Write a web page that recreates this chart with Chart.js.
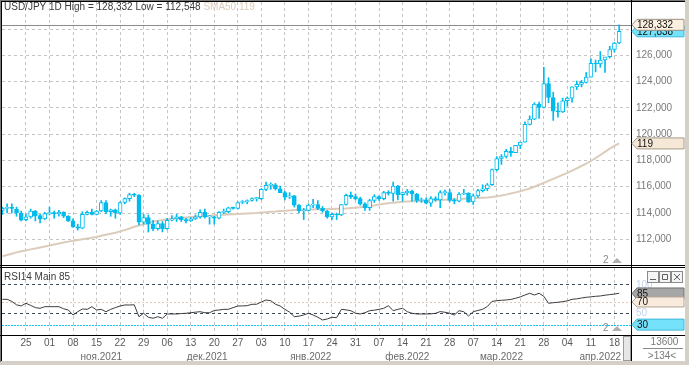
<!DOCTYPE html>
<html>
<head>
<meta charset="utf-8">
<title>USD/JPY 1D</title>
<script src="https://cdn.jsdelivr.net/npm/chart.js@4.4.1/dist/chart.umd.min.js"></script>
<style>
  html, body { margin: 0; padding: 0; background: #d4d0c8; }
  #screen { position: relative; width: 689px; height: 365px; overflow: hidden; }
  #paper { position: absolute; left: 0; top: 0; width: 685px; height: 361px; background: #fff; }
  #priceBox { position: absolute; left: 0; top: 0; width: 689px; height: 266px; }
  #rsiBox { position: absolute; left: 0; top: 266px; width: 689px; height: 96px; }
</style>
</head>
<body>
<div id="screen">
  <div id="paper"></div>
  <div id="priceBox"><canvas id="priceChart"></canvas></div>
  <div id="rsiBox"><canvas id="rsiChart"></canvas></div>
</div>
<script>
// daily bars, 18 Oct 2021 .. 19 Apr 2022
const opens = [
  114.20,114.35,114.38,114.30,114.00, 113.50,113.70,114.15,113.80,113.55,
  113.95,114.00,113.95,114.05,113.75, 113.40,112.95,112.85,113.90,114.05,
  113.90,114.15,114.80,114.10,114.25, 114.00,114.80,115.10,115.40,115.35,
  113.30,113.65,113.15,112.80,113.20, 112.80,113.45,113.55,113.70,113.50,
  113.40,113.55,113.70,114.05,113.70, 113.70,113.60,114.05,114.10,114.40,
  114.35,114.80,114.85,114.95,115.10, 115.10,115.80,116.10,116.15,115.85,
  115.55,115.20,115.30,114.60,114.15, 114.20,114.60,114.65,114.35,114.15,
  113.70,113.90,113.85,114.65,115.35, 115.25,115.10,114.70,114.40,114.95,
  115.25,115.10,115.55,115.50,116.05, 115.40,115.55,115.65,115.45,114.95,
  115.00,114.75,115.10,115.00,115.55, 115.55,114.95,114.90,115.45,115.50,
  114.85,115.30,115.70,115.85,116.15, 117.30,118.15,118.30,118.70,118.60,
  119.15,119.40,120.75,121.15,122.30, 122.05,123.85,122.80,121.75,121.70,
  122.55,122.75,123.60,123.80,123.95, 124.35,125.40,125.35,125.65,125.90,
  126.45,126.95
];
const highs = [
  114.45,114.70,114.70,114.45,114.15, 113.90,114.30,114.20,113.90,114.05,
  114.45,114.15,114.20,114.10,113.80, 113.55,113.15,114.10,114.15,114.30,
  114.20,114.95,114.95,114.30,114.30, 114.85,115.15,115.50,115.50,115.40,
  113.90,113.85,113.45,113.40,113.35, 113.60,113.80,113.90,113.75,113.60,
  113.65,113.85,114.25,114.30,113.80, 113.75,114.10,114.30,114.45,114.45,
  114.85,114.95,115.00,115.15,115.20, 115.85,116.35,116.30,116.25,116.05,
  115.65,115.55,115.35,114.65,114.35, 114.70,115.05,114.95,114.50,114.20,
  114.00,114.00,114.65,115.45,115.60, 115.45,115.20,114.80,115.05,115.40,
  115.30,115.65,115.70,116.35,116.10, 115.60,115.80,115.75,115.50,115.15,
  115.15,115.25,115.25,115.70,115.75, 115.80,115.10,115.55,115.80,115.55,
  115.45,115.80,116.15,116.25,117.35, 118.30,118.45,118.85,119.00,119.15,
  119.40,120.95,121.40,122.40,122.45, 125.10,124.30,123.20,122.40,122.75,
  122.85,123.60,124.05,124.10,124.70, 125.75,125.65,126.30,125.80,126.70,
  127.00,128.332
];
const lows = [
  113.90,114.00,114.00,113.75,113.40, 113.40,113.60,113.40,113.25,113.50,
  113.85,113.60,113.75,113.65,113.35, 112.90,112.70,112.80,113.85,113.85,
  113.85,114.10,113.95,113.75,113.60, 113.90,114.70,114.90,115.25,113.10,
  113.15,112.548,112.65,112.70,112.56, 112.75,113.40,113.35,113.35,113.25,
  113.35,113.50,113.60,113.60,113.15, 113.15,113.55,113.95,114.00,114.30,
  114.30,114.70,114.70,114.90,114.90, 115.00,115.70,115.80,115.75,115.55,
  115.00,115.10,114.45,114.00,113.50, 114.15,114.40,114.25,114.05,113.60,
  113.50,113.50,113.80,114.60,115.10, 115.00,114.60,114.20,114.20,114.80,
  114.95,115.00,115.35,114.90,115.00, 114.90,115.35,114.90,114.80,114.80,
  114.70,114.50,114.90,114.40,115.35, 114.85,114.70,114.85,115.40,114.80,
  114.65,115.20,115.60,115.70,116.10, 117.20,117.70,118.20,118.30,118.60,
  118.90,119.40,120.70,121.10,121.20, 122.00,122.40,121.05,121.30,121.65,
  122.15,122.45,123.40,123.60,123.90, 124.35,124.75,125.10,124.70,125.80,
  126.25,126.90
];
const closes = [
  114.35,114.38,114.35,114.00,113.45, 113.70,114.15,113.80,113.55,113.95,
  114.00,113.95,114.05,113.75,113.40, 112.95,112.85,113.90,114.05,113.90,
  114.15,114.80,114.10,114.25,114.00, 114.80,115.10,115.40,115.35,113.30,
  113.65,113.15,112.80,113.20,112.80, 113.45,113.55,113.70,113.50,113.40,
  113.55,113.70,114.05,113.70,113.70, 113.60,114.05,114.10,114.40,114.35,
  114.80,114.85,114.95,115.10,115.10, 115.80,116.10,116.15,115.85,115.55,
  115.20,115.30,114.60,114.15,114.20, 114.60,114.65,114.35,114.15,113.70,
  113.90,113.85,114.65,115.35,115.25, 115.10,114.70,114.40,114.95,115.25,
  115.10,115.55,115.50,116.05,115.40, 115.55,115.65,115.45,114.95,115.00,
  114.75,115.10,115.00,115.55,115.55, 114.95,114.90,115.45,115.50,114.85,
  115.30,115.70,115.85,116.15,117.30, 118.15,118.30,118.70,118.60,119.15,
  119.40,120.75,121.15,122.30,122.05, 123.85,122.80,121.75,121.70,122.55,
  122.75,123.60,123.80,123.95,124.35, 125.40,125.35,125.65,125.90,126.45,
  126.95,127.838
];
const sma50 = [
  110.70,110.80,110.90,111.00,111.08, 111.15,111.23,111.30,111.38,111.45,
  111.52,111.60,111.68,111.75,111.82, 111.88,111.94,112.00,112.06,112.12,
  112.18,112.26,112.34,112.42,112.50, 112.60,112.70,112.82,112.95,113.05,
  113.15,113.25,113.33,113.40,113.46, 113.52,113.56,113.60,113.63,113.66,
  113.69,113.72,113.76,113.78,113.80, 113.82,113.84,113.86,113.88,113.90,
  113.92,113.94,113.96,113.98,114.00, 114.03,114.06,114.09,114.12,114.16,
  114.18,114.20,114.22,114.24,114.25, 114.26,114.27,114.28,114.29,114.30,
  114.31,114.32,114.33,114.35,114.38, 114.40,114.43,114.47,114.52,114.58,
  114.64,114.70,114.75,114.79,114.82, 114.85,114.87,114.89,114.91,114.92,
  114.93,114.95,114.97,114.99,115.01, 115.03,115.05,115.07,115.09,115.11,
  115.13,115.15,115.17,115.19,115.22, 115.27,115.33,115.40,115.48,115.57,
  115.66,115.76,115.87,116.00,116.15, 116.30,116.45,116.60,116.75,116.90,
  117.05,117.22,117.40,117.58,117.76, 117.96,118.18,118.42,118.66,118.90,
  119.12,119.30
];
const rsi14 = [
  74.7,74.7,71.0,65.0,63.0, 67.7,64.0,60.0,58.8,61.7,
  61.7,61.7,61.7,58.0,55.8, 47.0,52.8,57.6,57.0,61.7,
  55.8,57.0,52.8,57.0,60.0, 62.9,64.7,64.7,65.0,44.0,
  50.0,43.0,41.2,44.0,41.2, 48.8,48.8,48.8,49.5,50.0,
  51.0,52.0,52.8,51.0,51.0, 55.0,55.8,57.0,57.0,60.0,
  62.9,63.0,63.5,65.9,66.0, 70.0,73.5,72.3,66.0,62.9,
  57.0,52.0,44.0,45.0,47.0, 50.0,47.0,43.0,38.2,40.0,
  43.0,42.2,57.0,56.0,54.6, 50.0,48.8,51.0,54.6,55.5,
  57.0,58.8,63.4,54.6,57.0, 58.8,52.8,50.0,48.8,48.8,
  48.8,49.0,50.0,53.0,51.8, 50.0,47.0,54.6,52.8,45.2,
  52.8,55.0,57.0,62.0,71.0, 72.3,73.0,73.5,74.5,76.5,
  79.0,82.3,85.3,82.3,85.3, 80.0,67.7,68.7,69.5,70.5,
  72.0,74.7,75.5,77.0,78.3, 79.0,80.0,80.6,82.0,83.0,
  84.0,85.3
];

const dayLabels = ['25','01','08','15','22','29','06','13','20','27','03','10','17',
                   '24','31','07','14','21','28','07','14','21','28','04','11','18'];
const dayLabelBars = [5,10,15,20,25,30,35,40,45,50,55,60,65,70,75,80,85,90,95,100,105,110,115,120,125,130];
const monthLabels = ['ноя.2021','дек.2021','янв.2022','фев.2022','мар.2022','апр.2022'];
const monthLabelBars = [21, 43.5, 65.5, 86, 106, 127];
const priceTicks = [112,114,116,118,120,122,124,126,128];
const rsiGrid = [50, 100];
const rsiLevels = [70, 30];

const symbolName = 'USD/JPY';
const periodName = '1D';
const rangeHigh = 128.332;
const rangeLow = 112.548;
const lastBid = 127.838;
const smaLast = 119;
const rsiLast = 85;

const BAR_MIN = -0.085, BAR_MAX = 133.73;
const PRICE_MIN = 110.04, PRICE_MAX = 130.07;
const RSI_MIN = 11.66, RSI_MAX = 130.0;

const CANDLE = 'rgb(0,186,238)';
const SMA_COLOR = 'rgb(220,204,188)';
const GRID = '#c4c4c4';
const FONT = "'Liberation Sans', Arial, sans-serif";

Chart.defaults.font.family = FONT;
Chart.defaults.font.size = 10;
Chart.defaults.color = '#6a6a6a';

function fmt(v, d) { return v.toFixed(d).replace('.', ','); }

function dayTicks(scale) { scale.ticks = dayLabelBars.map(v => ({value: v})); }

// keep Chart.js from reserving room for half-labels at the edges
function noEdgePad(s) {
  s.paddingTop = 0;
  s.paddingBottom = 0;
  s.paddingLeft = 0;
  s.paddingRight = 0;
}

function priceTag(ctx, x, yc, w, h, fill, stroke, text, textColor) {
  ctx.save();
  ctx.beginPath();
  ctx.moveTo(x, yc);
  ctx.lineTo(x + 5, yc - h / 2);
  ctx.lineTo(x + w, yc - h / 2);
  ctx.lineTo(x + w, yc + h / 2);
  ctx.lineTo(x + 5, yc + h / 2);
  ctx.closePath();
  ctx.fillStyle = fill;
  ctx.fill();
  ctx.strokeStyle = stroke;
  ctx.lineWidth = 1;
  ctx.stroke();
  ctx.fillStyle = textColor;
  ctx.font = '10px ' + FONT;
  ctx.textAlign = 'left';
  ctx.textBaseline = 'middle';
  ctx.fillText(text, x + 5, yc + 0.5);
  ctx.restore();
}

function pageMarker(ctx, x, y) {
  ctx.save();
  ctx.fillStyle = '#8a8a8a';
  ctx.font = '10px ' + FONT;
  ctx.textBaseline = 'alphabetic';
  ctx.fillText('2', x, y);
  ctx.fillStyle = '#b0b0b0';
  ctx.beginPath();
  ctx.moveTo(x + 9, y);
  ctx.lineTo(x + 19, y);
  ctx.lineTo(x + 14, y - 5);
  ctx.closePath();
  ctx.fill();
  ctx.restore();
}

const priceOverlay = {
  id: 'priceOverlay',
  beforeDatasetsDraw(chart) {
    const {ctx, chartArea: a, scales: {y}} = chart;
    const hy = Math.round(y.getPixelForValue(rangeHigh)) + 0.5;
    ctx.save();
    ctx.strokeStyle = '#8c8c8c';
    ctx.lineWidth = 1;
    ctx.beginPath();
    ctx.moveTo(a.left, hy);
    ctx.lineTo(a.right, hy);
    ctx.stroke();
    ctx.restore();
  },
  afterDraw(chart) {
    const {ctx, chartArea: a, scales: {y}} = chart;
    ctx.save();
    // frame
    ctx.fillStyle = '#7a7a7a';
    ctx.fillRect(0, 0, 685, 1);
    ctx.fillRect(0, 0, 1, 266);
    ctx.fillStyle = '#000';
    ctx.fillRect(1, 1, 684, 1);
    ctx.fillRect(1, 1, 1, 265);
    ctx.fillRect(a.right - 1, 0, 1, 266);
    ctx.fillRect(0, a.bottom, 685, 1);
    // title
    ctx.font = '10px ' + FONT;
    ctx.textBaseline = 'alphabetic';
    ctx.textAlign = 'left';
    const head = symbolName + ' ' + periodName + ' High = ' + fmt(rangeHigh, 3) + ' Low = ' + fmt(rangeLow, 3) + ' ';
    ctx.fillStyle = '#3a3a3a';
    ctx.fillText(head, 4, 10);
    ctx.fillStyle = SMA_COLOR;
    ctx.fillText('SMA50 ' + smaLast, 4 + ctx.measureText(head).width, 10);
    ctx.restore();
    pageMarker(ctx, 603, a.bottom - 2);
    priceTag(ctx, a.right, y.getPixelForValue(lastBid), 52, 11, '#74e2fb', '#3fb8d8', fmt(lastBid, 3), '#111');
    priceTag(ctx, a.right, y.getPixelForValue(rangeHigh), 52, 11, '#fbf0df', '#9a8f80', fmt(rangeHigh, 3), '#111');
    priceTag(ctx, a.right, y.getPixelForValue(sma50[sma50.length - 1]), 52, 11, '#f6e8d6', '#a89a88', String(smaLast), '#111');
  }
};

new Chart(document.getElementById('priceChart'), {
  type: 'bar',
  data: {
    datasets: [
      {
        type: 'line',
        data: sma50.map((v, i) => ({x: i, y: v})),
        borderColor: SMA_COLOR,
        borderWidth: 2,
        pointRadius: 0,
        order: 3
      },
      {
        data: lows.map((v, i) => ({x: i, y: [v, highs[i]]})),
        backgroundColor: CANDLE,
        barThickness: 1,
        grouped: false,
        order: 2
      },
      {
        data: opens.map((v, i) => ({x: i, y: [v, closes[i]]})),
        backgroundColor: opens.map((v, i) => closes[i] >= v ? '#ffffff' : CANDLE),
        borderColor: CANDLE,
        borderWidth: 1,
        borderSkipped: false,
        barThickness: 4,
        minBarLength: 1,
        grouped: false,
        order: 1
      }
    ]
  },
  options: {
    responsive: true,
    maintainAspectRatio: false,
    animation: false,
    events: [],
    layout: {padding: {left: 2, top: 2, right: 0, bottom: 1}},
    plugins: {legend: {display: false}, tooltip: {enabled: false}},
    scales: {
      x: {
        type: 'linear', min: BAR_MIN, max: BAR_MAX, offset: false,
        grid: {color: GRID, drawTicks: false, offset: false},
        border: {display: false, dash: [3, 3]},
        ticks: {display: false},
        afterBuildTicks: dayTicks,
        afterFit: s => { s.height = 0; noEdgePad(s); }
      },
      y: {
        position: 'right', min: PRICE_MIN, max: PRICE_MAX,
        grid: {color: GRID, drawTicks: false},
        border: {display: false, dash: [3, 3]},
        ticks: {padding: 4, color: '#7a7a7a', callback: v => fmt(v, 3)},
        afterBuildTicks: s => { s.ticks = priceTicks.map(v => ({value: v})); },
        afterFit: s => { s.width = 57; noEdgePad(s); }
      }
    }
  },
  plugins: [priceOverlay]
});

const rsiOverlay = {
  id: 'rsiOverlay',
  beforeDatasetsDraw(chart) {
    const {ctx, chartArea: a, scales: {y}} = chart;
    const colors = ['#e2c9b6', '#19c4ee'];
    ctx.save();
    ctx.lineWidth = 1;
    rsiLevels.forEach((lv, k) => {
      const py = Math.round(y.getPixelForValue(lv)) + 0.5;
      ctx.strokeStyle = colors[k];
      ctx.setLineDash(k === 0 ? [2, 2] : [2, 1]);
      ctx.beginPath();
      ctx.moveTo(a.left, py);
      ctx.lineTo(a.right, py);
      ctx.stroke();
    });
    ctx.restore();
  },
  afterDraw(chart) {
    const {ctx, chartArea: a, scales: {y}} = chart;
    ctx.save();
    ctx.fillStyle = '#7a7a7a';
    ctx.fillRect(0, 0, 1, 96);
    ctx.fillStyle = '#000';
    ctx.fillRect(1, 0, 1, 95);
    ctx.fillRect(0, a.top - 1, 685, 1);
    ctx.fillRect(0, a.bottom, 685, 1);
    ctx.fillRect(a.right - 1, 0, 1, 95);
    // caption
    ctx.font = '10px ' + FONT;
    ctx.textBaseline = 'alphabetic';
    ctx.fillStyle = '#3a3a3a';
    ctx.fillText('RSI14 Main ' + rsiLast, 4, 13.5);
    // window buttons
    const bx = [647, 659, 671];
    bx.forEach((x, k) => {
      ctx.fillStyle = '#f4f4f4';
      ctx.fillRect(x + 0.5, 5.5, 11, 11);
      ctx.strokeStyle = '#8a8a8a';
      ctx.lineWidth = 1;
      ctx.strokeRect(x + 0.5, 5.5, 11, 11);
      ctx.strokeStyle = '#606060';
      ctx.beginPath();
      if (k === 0) { ctx.moveTo(x + 3, 13.5); ctx.lineTo(x + 9, 13.5); }
      if (k === 1) { ctx.rect(x + 3.5, 8.5, 5, 5); }
      if (k === 2) { ctx.moveTo(x + 3, 8); ctx.lineTo(x + 9, 14); ctx.moveTo(x + 9, 8); ctx.lineTo(x + 3, 14); }
      ctx.stroke();
    });
    // scroll thumb and bar counter
    ctx.fillStyle = '#e6e6e6';
    ctx.fillRect(623.5, a.bottom + 1.5, 7, 24);
    ctx.strokeStyle = '#9a9a9a';
    ctx.strokeRect(623.5, a.bottom + 1.5, 7, 24);
    ctx.fillStyle = '#7a7a7a';
    ctx.textAlign = 'center';
    ctx.textBaseline = 'middle';
    ctx.fillText('13600', 664.5, a.bottom + 7);
    ctx.fillText('>134<', 662, a.bottom + 21);
    ctx.fillStyle = '#8a8a8a';
    ctx.fillRect(643, a.bottom + 13, 40, 1);
    ctx.restore();
    pageMarker(ctx, 603, a.bottom - 4);
    priceTag(ctx, a.right, y.getPixelForValue(30), 52, 11, '#74e2fb', '#3fb8d8', '30', '#111');
    priceTag(ctx, a.right, y.getPixelForValue(rsiLast), 52, 11, '#a6a6a6', '#6e6e6e', String(rsiLast), '#111');
    priceTag(ctx, a.right, y.getPixelForValue(70), 52, 10, '#f8ebdd', '#b3a595', '70', '#111');
  }
};

new Chart(document.getElementById('rsiChart'), {
  type: 'line',
  data: {
    datasets: [{
      data: rsi14.map((v, i) => ({x: i, y: v})),
      borderColor: '#3c3c3c',
      borderWidth: 1,
      pointRadius: 0
    }]
  },
  options: {
    responsive: true,
    maintainAspectRatio: false,
    animation: false,
    events: [],
    layout: {padding: {left: 2, top: 2, right: 0, bottom: 1}},
    plugins: {legend: {display: false}, tooltip: {enabled: false}},
    scales: {
      x: {
        type: 'linear', min: BAR_MIN, max: BAR_MAX, weight: 0,
        grid: {color: GRID, drawTicks: false},
        border: {display: false, dash: [3, 3]},
        ticks: {padding: 2, autoSkip: false, maxRotation: 0, color: '#5a5a5a', callback: (v, i) => dayLabels[i]},
        afterBuildTicks: dayTicks,
        afterFit: s => { s.height = 14; noEdgePad(s); }
      },
      xm: {
        type: 'linear', axis: 'x', position: 'bottom', min: BAR_MIN, max: BAR_MAX, weight: 1,
        grid: {display: false, drawTicks: false},
        border: {display: false},
        ticks: {padding: 2, autoSkip: false, maxRotation: 0, color: '#6a6a6a', callback: (v, i) => monthLabels[i]},
        afterBuildTicks: s => { s.ticks = monthLabelBars.map(v => ({value: v})); },
        afterFit: s => { s.height = 12; noEdgePad(s); }
      },
      y: {
        position: 'right', min: RSI_MIN, max: RSI_MAX,
        grid: {color: '#3e4a5c', drawTicks: false},
        border: {display: false, dash: [3, 3]},
        ticks: {padding: 4, color: '#c4d2ea'},
        afterBuildTicks: s => { s.ticks = rsiGrid.map(v => ({value: v})); },
        afterFit: s => { s.width = 57; noEdgePad(s); }
      }
    }
  },
  plugins: [rsiOverlay]
});
</script>
</body>
</html>
